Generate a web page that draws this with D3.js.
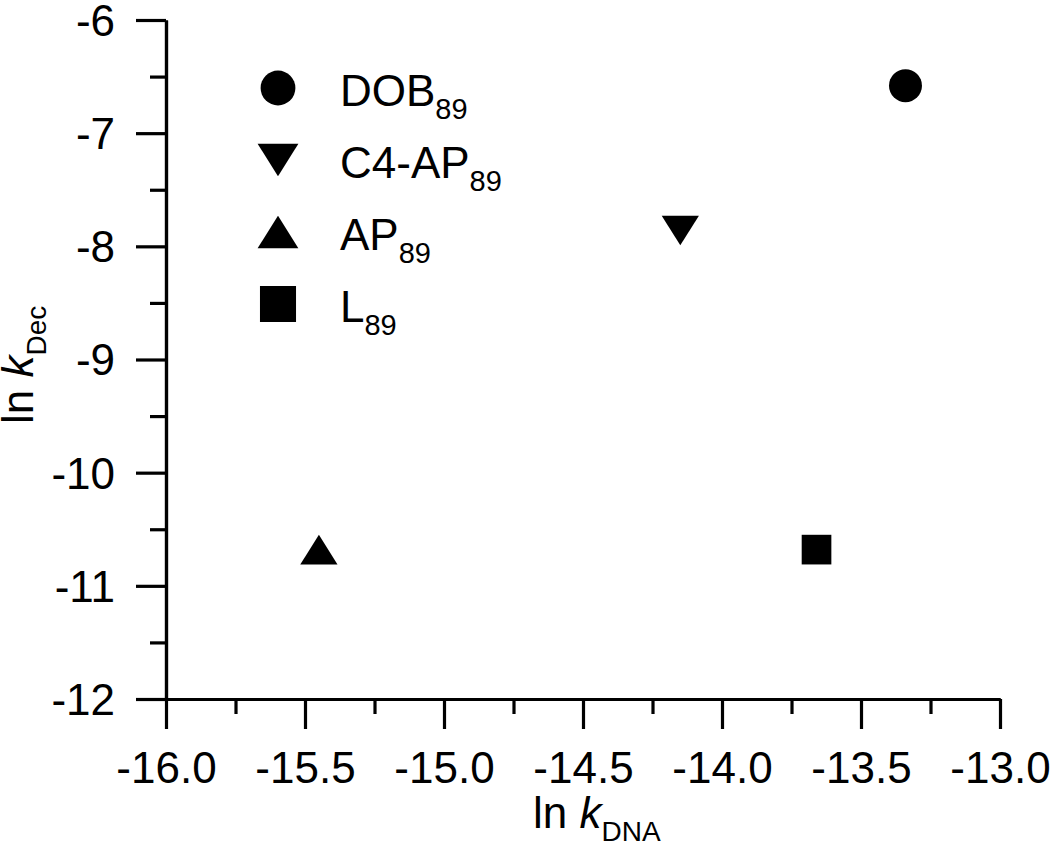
<!DOCTYPE html>
<html>
<head>
<meta charset="utf-8">
<script src="https://cdn.jsdelivr.net/npm/d3@7"></script>
<style>
  html, body { margin: 0; padding: 0; background: #fff; }
  svg { display: block; font-family: "Liberation Sans", Arial, sans-serif; }
</style>
</head>
<body>
<svg id="chart" width="1050" height="849"></svg>
<script>
// ---- data ----
const seriesNames = ["DOB", "C4-AP", "AP", "L"];
const seriesSub = ["89", "89", "89", "89"];
const seriesShapes = ["circle", "triangleDown", "triangleUp", "square"];
const xValues = [-13.34, -14.15, -15.45, -13.66];   // ln k_DNA
const yValues = [-6.58, -7.86, -10.68, -10.68];     // ln k_Dec
const xTicks = [-16.0, -15.5, -15.0, -14.5, -14.0, -13.5, -13.0];
const xMinorTicks = [-15.75, -15.25, -14.75, -14.25, -13.75, -13.25];
const yTicks = [-12, -11, -10, -9, -8, -7, -6];
const yMinorTicks = [-11.5, -10.5, -9.5, -8.5, -7.5, -6.5];

// ---- layout ----
const svg = d3.select("#chart");
const mLeft = 166, mRight = 1000, mTop = 20, mBottom = 699;
const x = d3.scaleLinear().domain([-16, -13]).range([mLeft, mRight]);
const y = d3.scaleLinear().domain([-12, -6]).range([mBottom, mTop]);
const black = "#000";
const loc = d3.formatLocale({ decimal: ".", thousands: ",", grouping: [3], currency: ["", ""], minus: "-" });

// custom symbol types (bbox-centred shapes)
const shapeTypes = {
  circle: d3.symbolCircle,
  square: d3.symbolSquare,
  triangleUp: { draw(ctx, size) { const w = Math.sqrt(size * 4 / Math.sqrt(3)); const h = w * Math.sqrt(3) / 2 * 0.92;
      ctx.moveTo(0, -h / 2); ctx.lineTo(w / 2, h / 2); ctx.lineTo(-w / 2, h / 2); ctx.closePath(); } },
  triangleDown: { draw(ctx, size) { const w = Math.sqrt(size * 4 / Math.sqrt(3)); const h = w * Math.sqrt(3) / 2 * 0.92;
      ctx.moveTo(0, h / 2); ctx.lineTo(w / 2, -h / 2); ctx.lineTo(-w / 2, -h / 2); ctx.closePath(); } }
};
const plotSizes = { circle: 855, square: 880, triangleUp: 600, triangleDown: 600 };
const legendSizes = { circle: 950, square: 1300, triangleUp: 720, triangleDown: 720 };

// ---- axes ----
const xAxis = d3.axisBottom(x).tickValues(xTicks).tickSize(30).tickSizeOuter(0).tickFormat(loc.format(".1f"));
const xAxisMinor = d3.axisBottom(x).tickValues(xMinorTicks).tickSize(15).tickSizeOuter(0).tickFormat("");
const yAxis = d3.axisLeft(y).tickValues(yTicks).tickSize(30).tickSizeOuter(0).tickFormat(loc.format("d"));
const yAxisMinor = d3.axisLeft(y).tickValues(yMinorTicks).tickSize(16).tickSizeOuter(0).tickFormat("");

function styleAxis(g) {
  g.selectAll("path.domain").attr("stroke", black).attr("stroke-width", 3.2);
  g.selectAll(".tick line").attr("stroke", black).attr("stroke-width", 3.2);
  g.selectAll(".tick text").attr("fill", black).style("font-size", "44px")
   .style("font-family", "'Liberation Sans', Arial, sans-serif");
}

const gx = svg.append("g").attr("transform", `translate(0,${mBottom})`).call(xAxis).call(styleAxis);
gx.selectAll(".tick text").attr("y", 84).attr("dy", 0);
svg.append("g").attr("transform", `translate(0,${mBottom})`).call(xAxisMinor).call(styleAxis);
const gy = svg.append("g").attr("transform", `translate(${mLeft},0)`).call(yAxis).call(styleAxis);
gy.selectAll(".tick text").attr("x", -51).attr("dy", "0.35em");
svg.append("g").attr("transform", `translate(${mLeft},0)`).call(yAxisMinor).call(styleAxis);

// ---- points ----
const points = seriesNames.map((n, i) => ({ name: n, shape: seriesShapes[i], xv: xValues[i], yv: yValues[i] }));
svg.append("g").selectAll("path").data(points).join("path")
  .attr("transform", d => `translate(${x(d.xv)},${y(d.yv)})`)
  .attr("d", d => d3.symbol().type(shapeTypes[d.shape]).size(plotSizes[d.shape])())
  .attr("fill", black);

// ---- legend ----
const legend = svg.append("g");
const legendRows = legend.selectAll("g").data(points).join("g")
  .attr("transform", (d, i) => `translate(278,${88 + i * 72})`);
legendRows.append("path")
  .attr("d", d => d3.symbol().type(shapeTypes[d.shape]).size(legendSizes[d.shape])())
  .attr("fill", black);
const lt = legendRows.append("text").attr("x", 62).attr("y", 18).attr("fill", black)
  .style("font-size", "44px");
lt.append("tspan").text(d => d.name);
lt.append("tspan").text((d, i) => seriesSub[i]).attr("dy", 13).style("font-size", "29px");

// ---- axis titles ----
const xt = svg.append("text").attr("x", 533).attr("y", 828).attr("fill", black).style("font-size", "44px");
xt.append("tspan").text("ln ");
xt.append("tspan").text("k").style("font-style", "italic");
xt.append("tspan").text("DNA").attr("dy", 13).style("font-size", "28px");

const yt = svg.append("text").attr("transform", "translate(33,424) rotate(-90)").attr("fill", black).style("font-size", "44px");
yt.append("tspan").text("ln ");
yt.append("tspan").text("k").style("font-style", "italic");
yt.append("tspan").text("Dec").attr("dy", 13).style("font-size", "28px");
</script>
</body>
</html>
